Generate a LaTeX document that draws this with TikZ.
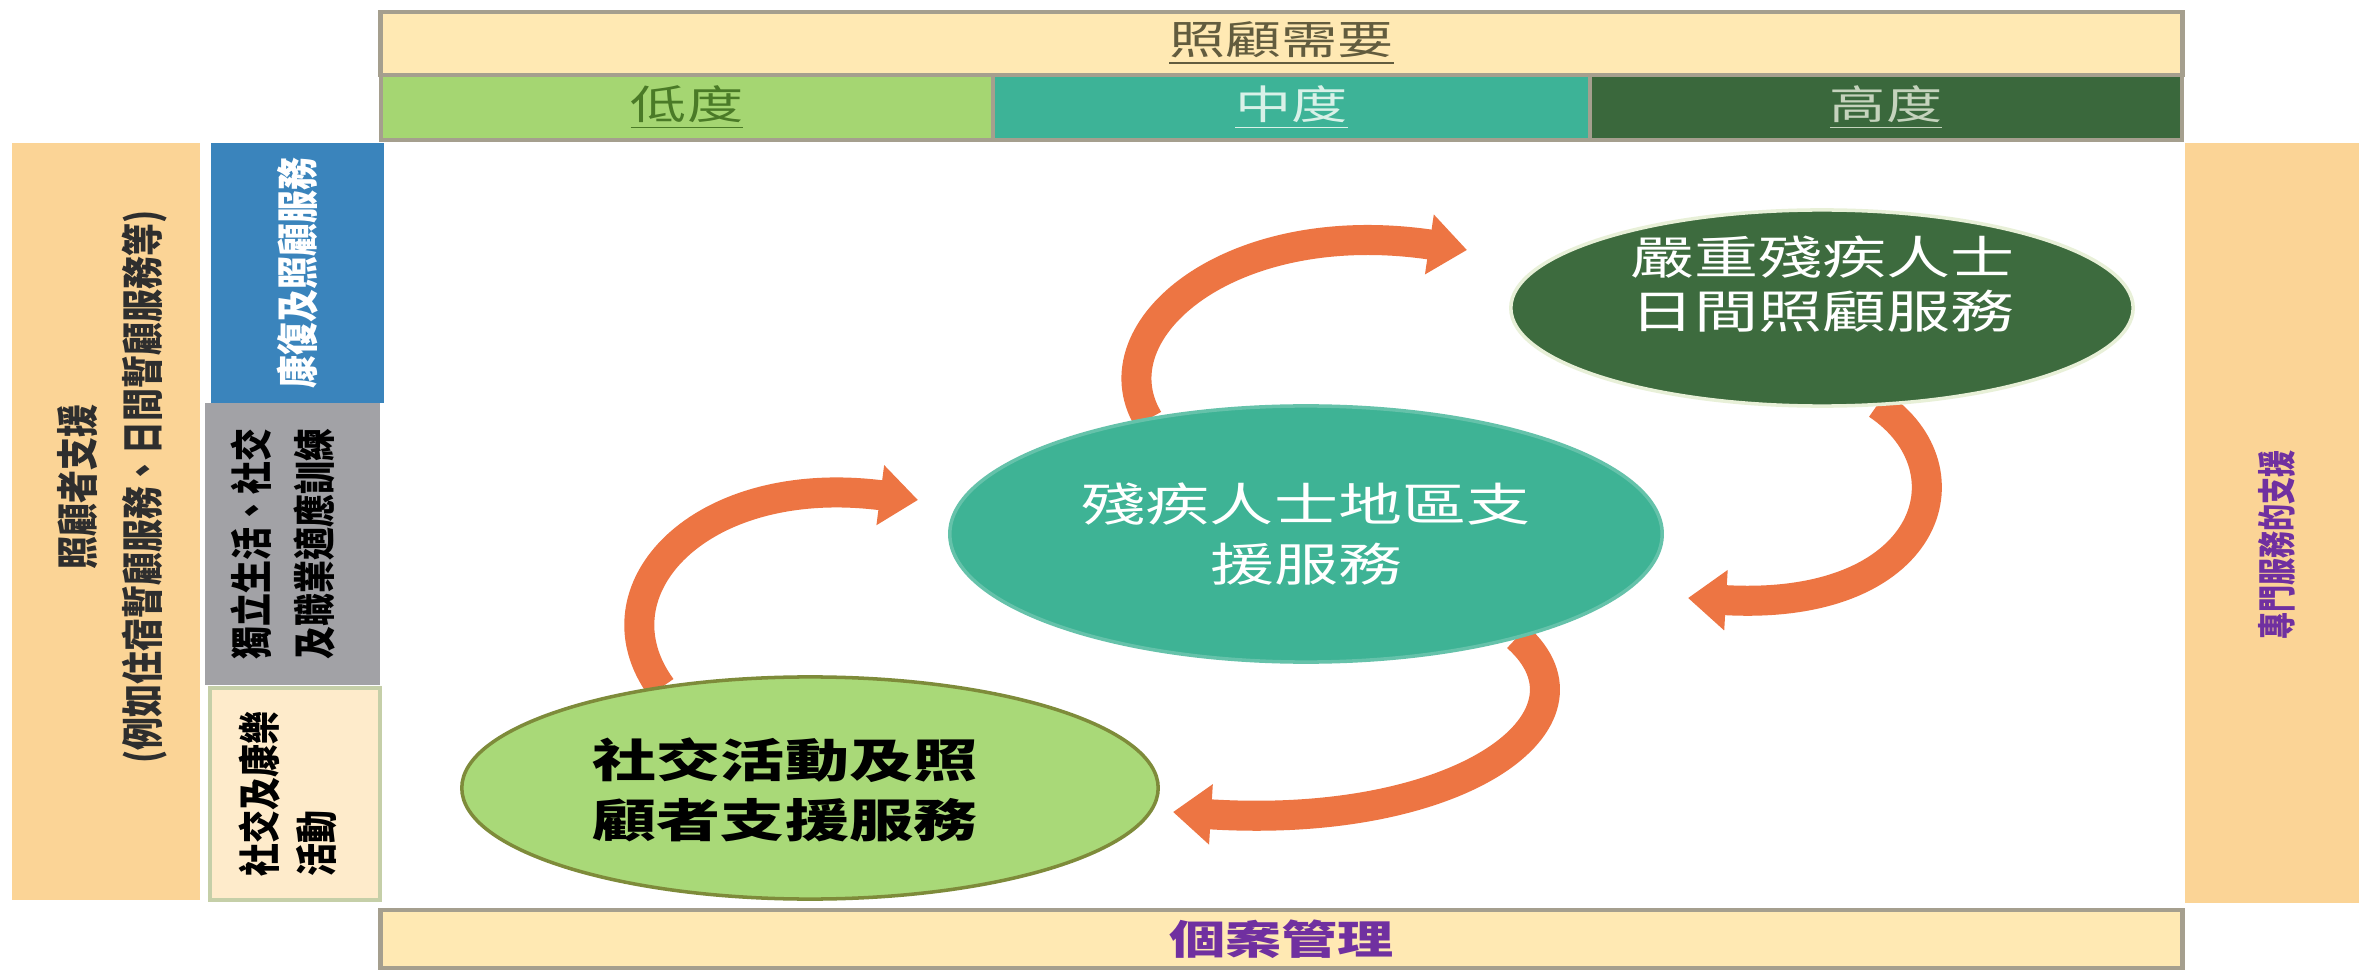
\documentclass[tikz,border=0pt]{standalone}
\usepackage{fontspec}
\usetikzlibrary{shapes.geometric,arrows.meta}
\newfontfamily\cjkH[FakeStretch=1.4]{Noto Sans CJK TC}
\newfontfamily\cjkV[FakeStretch=0.78]{Noto Sans CJK TC}
\newfontfamily\cjkVn[FakeStretch=0.7]{Noto Sans CJK TC}
\definecolor{hdr}{HTML}{FFE9B3}
\definecolor{hdrb}{HTML}{A59F8E}
\definecolor{lowc}{HTML}{A5D672}
\definecolor{midc}{HTML}{3DB397}
\definecolor{highc}{HTML}{3A683C}
\definecolor{orng}{HTML}{FBD496}
\definecolor{bluec}{HTML}{3A84BC}
\definecolor{grayc}{HTML}{A2A2A6}
\definecolor{creamc}{HTML}{FEEBCB}
\definecolor{creamb}{HTML}{C5CFA8}
\definecolor{purp}{HTML}{7030A0}
\definecolor{dkg}{HTML}{3D6B3E}
\definecolor{dkgb}{HTML}{E8F0D8}
\definecolor{tealc}{HTML}{3EB395}
\definecolor{lgreen}{HTML}{A9D978}
\definecolor{lgreenb}{HTML}{7E8B3A}
\definecolor{arrowc}{HTML}{ED7543}
\definecolor{caretxt}{HTML}{625C3E}
\definecolor{lowtxt}{HTML}{4A7A27}
\definecolor{midtxt}{HTML}{D9F1E8}
\definecolor{hightxt}{HTML}{C5D3BD}
\definecolor{darktxt}{HTML}{2E2E2E}
\pgfdeclarelayer{back}
\pgfsetlayers{back,main}
\begin{document}
\begin{tikzpicture}[x=0.01cm,y=-0.01cm,
  cell/.style={inner sep=0pt, outer sep=0pt, align=center},
  hfont/.style={font=\cjkH\fontsize{11.4}{14}\selectfont},
  vbfont/.style={font=\cjkV\bfseries\fontsize{12}{18.5}\selectfont},
  ell/.style={ellipse, inner sep=0pt, outer sep=0pt, align=center, font=\cjkH\fontsize{13}{17}\selectfont},
  flow/.style={draw=arrowc, line width=0.3cm, -{Triangle[width=0.58cm,length=0.38cm]}}
]
\useasboundingbox (0,0) rectangle (2359,973);
\begin{pgfonlayer}{back}
\fill[white] (0,0) rectangle (2359,973);
\end{pgfonlayer}

% header
\node[cell, hfont, fill=hdr, draw=hdrb, line width=1.2pt, minimum width=18.01cm, minimum height=0.63cm, text=caretxt] (care) at (1281.5,43.5) {\underline{照顧需要}};
\node[cell, hfont, fill=lowc, draw=hdrb, line width=1pt, minimum width=6.12cm, minimum height=0.65cm, text=lowtxt] (low) at (687,107.5) {\underline{低度}};
\node[cell, hfont, fill=midc, draw=hdrb, line width=1pt, minimum width=5.97cm, minimum height=0.65cm, text=midtxt] (mid) at (1291.5,107.5) {\underline{中度}};
\node[cell, hfont, fill=highc, draw=hdrb, line width=1pt, minimum width=5.92cm, minimum height=0.65cm, text=hightxt] (high) at (1886,107.5) {\underline{高度}};

% left side
\node[cell, fill=orng, minimum width=1.88cm, minimum height=7.57cm] (carer) at (106,521.5) {};
\node[cell, vbfont, rotate=90, text=darktxt] (carertxt) at (112,487) {照顧者支援\\(例如住宿暫顧服務、日間暫顧服務等)};
\node[cell, vbfont, rotate=90, fill=bluec, text=white, minimum width=2.60cm, minimum height=1.73cm] (rehab) at (297.5,273) {康復及照顧服務};
\node[cell, fill=grayc, minimum width=1.75cm, minimum height=2.82cm] (indep) at (292.5,544) {};
\node[cell, rotate=90, text=black, font=\cjkV\bfseries\fontsize{12}{18}\selectfont] (indeptxt) at (283,544) {獨立生活、社交\\及職業適應訓練};
\node[cell, fill=creamc, draw=creamb, line width=1pt, minimum width=1.70cm, minimum height=2.12cm] (social) at (295,794) {};
\node[cell, rotate=90, text=black, align=left, font=\cjkV\bfseries\fontsize{12}{16.2}\selectfont] (socialtxt) at (288,794) {社交及康樂\\活動};

% right side
\node[cell, fill=orng, minimum width=1.74cm, minimum height=7.60cm] (prof) at (2272,523) {};
\node[cell, rotate=90, text=purp, font=\cjkVn\bfseries\fontsize{11}{14}\selectfont] (proftxt) at (2277,545) {專門服務的支援};

% bottom
\node[cell, fill=hdr, draw=hdrb, line width=1.2pt, minimum width=18.01cm, minimum height=0.58cm, text=purp, font=\cjkH\bfseries\fontsize{11.4}{14}\selectfont] (case) at (1281.5,939) {個案管理};

% ellipses
\node[ell, fill=dkg, draw=dkgb, line width=1pt, minimum width=6.22cm, minimum height=1.96cm] (severe) at (1822,308) {};
\node[cell, text=white, font=\cjkH\fontsize{13}{15.4}\selectfont] (severetxt) at (1822,284) {嚴重殘疾人士\\日間照顧服務};
\node[ell, fill=tealc, draw=tealc!80!white, line width=1pt, text=white, minimum width=7.12cm, minimum height=2.56cm] (local) at (1306,534) {殘疾人士地區支\\援服務};
\node[ell, fill=lgreen, draw=lgreenb, line width=1pt, minimum width=6.96cm, minimum height=2.22cm] (activity) at (810,788) {};
\node[cell, text=black, font=\cjkH\bfseries\fontsize{13}{17}\selectfont] (activitytxt) at (785,790) {社交活動及照\\顧者支援服務};

% arrows
\coordinate (tipA) at (1467,250);
\coordinate (tipB) at (1688,598);
\coordinate (tipC) at (1173,812);
\coordinate (tipD) at (918,500);
\begin{pgfonlayer}{back}
\draw[flow] (local.144) .. controls (1095,330) and (1230,215) .. (tipA);
\draw[flow] (severe.300) .. controls (1975,470) and (1930,612) .. (tipB);
\draw[flow] (local.334) .. controls (1610,720) and (1460,830) .. (tipC);
\draw[flow] (activity.146) .. controls (590,590) and (700,472) .. (tipD);
\end{pgfonlayer}
\end{tikzpicture}
\end{document}
